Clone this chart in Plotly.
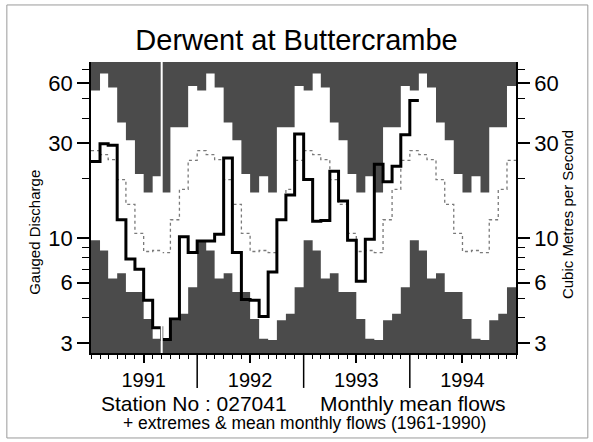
import numpy as np
import pandas as pd
import plotly.graph_objects as go

# Derwent at Buttercrambe, station 027041 - monthly mean flows (m3/s)
years = [1991, 1992, 1993, 1994]
year_labels = ['1991', '1992', '1993', '1994']

# 1961-1990 extremes and means by calendar month (Jan..Dec)
max_flow = [55, 67, 57, 38, 31, 21, 17, 20.5, 17, 36, 36, 58]
min_flow = [9.8, 8.7, 6.3, 6.7, 5.4, 5.4, 3.95, 3.15, 3.1, 3.9, 4.2, 5.7]
mean_flow = [27.5, 26.3, 24.8, 19.7, 14.8, 10.6, 8.6, 8.7, 8.5, 12.4, 17.6, 24.6]

# gauged monthly means, Jan 1991 .. Jan 1994
flow_1991 = [24.3, 29.8, 29.3, 12.4, 7.9, 7.0, 4.9, 3.57, 3.12, 3.95, 10.2, 8.5]
flow_1992 = [9.7, 9.7, 10.5, 25.3, 8.5, 4.95, 4.9, 4.07, 6.8, 12.4, 16.5, 33.3]
flow_1993 = [19.7, 12.2, 12.3, 21.7, 15.4, 9.8, 6.1, 9.9, 23.5, 19.2, 23.0, 33.0]
flow_1994 = [49.0]

y_ticks = [3, 6, 10, 30, 60]
y_minor = [4, 5, 7, 8, 9, 20, 40, 50, 70]

DARK = '#4b4b4b'
FONT = 'Liberation Sans, Arial, Helvetica, sans-serif'


def step_xy(vals):
    # month-start x positions plus one closing edge so the last month has width
    x = pd.date_range(f'{years[0]}-01-01', periods=len(vals) + 1, freq='MS')
    return [d.strftime('%Y-%m-%d') for d in x], list(vals) + [vals[-1]]


n_years = len(years)
x_min, y_min = step_xy(min_flow * n_years)
x_max, y_max = step_xy(max_flow * n_years)
x_mean, y_mean = step_xy(mean_flow * n_years)
x_flow, y_flow = step_xy(flow_1991 + flow_1992 + flow_1993 + flow_1994)

fig = go.Figure()
# white band between monthly minima and maxima; dark plot background shows the rest
fig.add_trace(go.Scatter(x=x_min, y=y_min, mode='lines', line=dict(width=0, shape='hv'),
                         hoverinfo='skip'))
fig.add_trace(go.Scatter(x=x_max, y=y_max, mode='lines', line=dict(width=0, shape='hv'),
                         fill='tonexty', fillcolor='white', hoverinfo='skip'))
fig.add_trace(go.Scatter(x=x_mean, y=y_mean, mode='lines',
                         line=dict(color='#7a7a7a', width=1.3, dash='dot', shape='hv')))
fig.add_trace(go.Scatter(x=x_flow, y=y_flow, mode='lines',
                         line=dict(color='black', width=3, shape='hv')))
# dummy trace so the right-hand axis is drawn
fig.add_trace(go.Scatter(x=x_mean[:1], y=y_mean[:1], yaxis='y2', mode='markers',
                         marker=dict(opacity=0), hoverinfo='skip'))

start = f'{years[0]}-01-01'
end = f'{years[-1] + 1}-01-01'
y_range = [np.log10(2.67), np.log10(76.4)]

yax = dict(type='log', range=y_range, tickvals=y_ticks, ticktext=[str(v) for v in y_ticks],
           ticks='outside', ticklen=12, tickwidth=1.5, tickcolor='black',
           minor=dict(tickvals=y_minor, ticks='outside', ticklen=7, tickwidth=1.3,
                      tickcolor='black', showgrid=False),
           showgrid=False, zeroline=False, showline=True, linecolor='black', linewidth=1.5,
           tickfont=dict(size=22, color='black'))

fig.update_layout(
    width=593, height=442,
    margin=dict(l=91, r=77, t=62, b=89),
    paper_bgcolor='white', plot_bgcolor=DARK,
    showlegend=False,
    font=dict(family=FONT, color='black'),
    title=dict(text='Derwent at Buttercrambe', x=0.5, xanchor='center',
               y=1 - 40 / 442, yanchor='middle', yref='container',
               font=dict(size=29, color='black')),
    xaxis=dict(type='date', range=[start, end],
               tickvals=[f'{y}-07-01' for y in years], ticktext=year_labels,
               ticks='outside', ticklen=8, tickwidth=1.5, tickcolor='black',
               minor=dict(dtick='M1', tick0=start, ticks='outside', ticklen=4,
                          tickwidth=1.2, tickcolor='black', showgrid=False),
               showgrid=False, zeroline=False, showline=True, linecolor='black', linewidth=1.5,
               tickfont=dict(size=20, color='black')),
    yaxis=yax,
    yaxis2=dict(yax, overlaying='y', side='right'),
)

# long ticks at the year boundaries
for y in years[1:]:
    fig.add_shape(type='line', xref='x', yref='paper', x0=f'{y}-01-01', x1=f'{y}-01-01',
                  y0=0, y1=-0.12, line=dict(color='black', width=1.5))

# break in the record at the start of September 1991
fig.add_shape(type='line', xref='x', yref='paper', x0='1991-09-01', x1='1991-09-01',
              y0=0, y1=1, line=dict(color='white', width=2), layer='above')

# scan frame
fig.add_shape(type='rect', xref='paper', yref='paper', x0=-0.198, x1=1.169,
              y0=-0.292, y1=1.196, line=dict(color='#9a9a9a', width=1))

txt = dict(xref='paper', yref='paper', showarrow=False, xanchor='center', yanchor='middle')
fig.add_annotation(text='Gauged Discharge', x=-0.132, y=0.416, textangle=-90,
                   font=dict(size=15), **txt)
fig.add_annotation(text='Cubic Metres per Second', x=1.12, y=0.474, textangle=-90,
                   font=dict(size=15), **txt)
fig.add_annotation(text='Station No : 027041', x=0.2435, y=-0.172, font=dict(size=21), **txt)
fig.add_annotation(text='Monthly mean flows', x=0.7565, y=-0.172, font=dict(size=21), **txt)
fig.add_annotation(text='+ extremes & mean monthly flows (1961-1990)', x=0.502, y=-0.241,
                   font=dict(size=17.5), **txt)

fig.write_html('out.html', config={'displayModeBar': False},
               post_script="document.body.style.margin='0';")
